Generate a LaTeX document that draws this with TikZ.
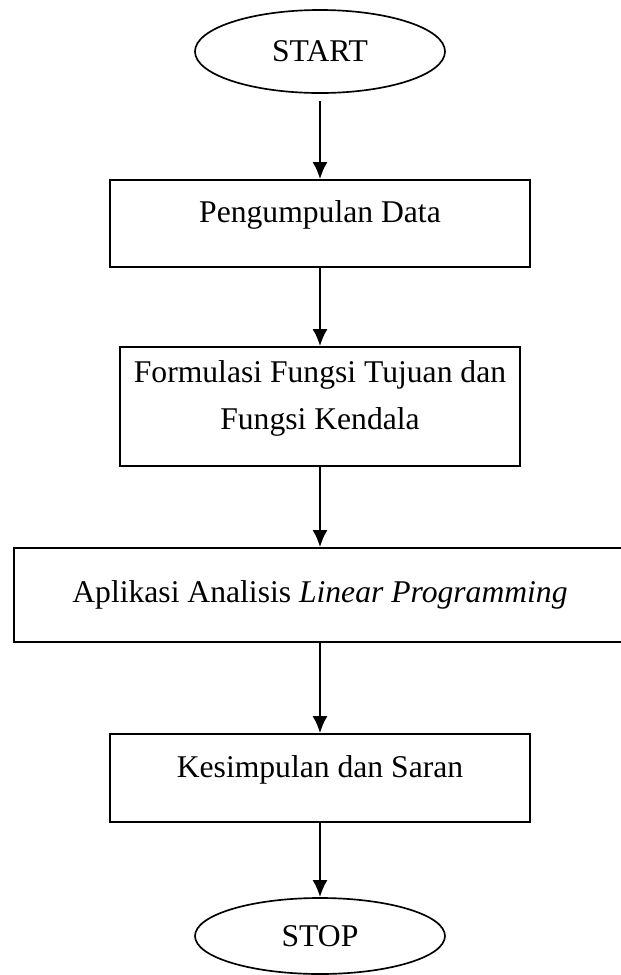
\documentclass[tikz,border=0pt]{standalone}
\usepackage{fontspec}
\setmainfont{Liberation Serif}
\usetikzlibrary{arrows.meta,shapes.geometric}

\tikzset{
    terminal/.style={draw, ellipse, line width=0.95pt, inner sep=0pt, minimum width=5cm},
    process/.style={draw, rectangle, line width=0.95pt, align=center, text depth=0.46cm},
    flow/.style={->, >={Latex[length=3.4mm,width=3mm]}, line width=1.3pt}
}

\begin{document}
\begin{tikzpicture}[font=\fontsize{18}{26.2}\selectfont]
        \useasboundingbox (0,0) rectangle (12.4,-19.5);

        \node[terminal, minimum height=1.66cm] (start) at (6.4,-1.03) {START};
        \node[process, minimum width=8.4cm, minimum height=1.74cm] (data) at (6.4,-4.47) {Pengumpulan Data};
        \node[process, minimum width=8cm, minimum height=2.38cm] (formulasi) at (6.4,-8.13) {Formulasi Fungsi Tujuan dan\\Fungsi Kendala};
        \node[draw, line width=0.95pt, minimum width=12.24cm, minimum height=1.88cm] (aplikasi) at (6.4,-11.9) {Aplikasi Analisis \textit{Linear Programming}};
        \node[process, minimum width=8.4cm, minimum height=1.76cm] (kesimpulan) at (6.4,-15.56) {Kesimpulan dan Saran};
        \node[terminal, minimum height=1.52cm] (stop) at (6.4,-18.72) {STOP};

        \draw[flow, shorten <=0.14cm] (start) -- (data);
        \draw[flow] (data) -- (formulasi);
        \draw[flow] (formulasi) -- (aplikasi);
        \draw[flow] (aplikasi) -- (kesimpulan);
        \draw[flow] (kesimpulan) -- (stop);
    \end{tikzpicture}
\end{document}
